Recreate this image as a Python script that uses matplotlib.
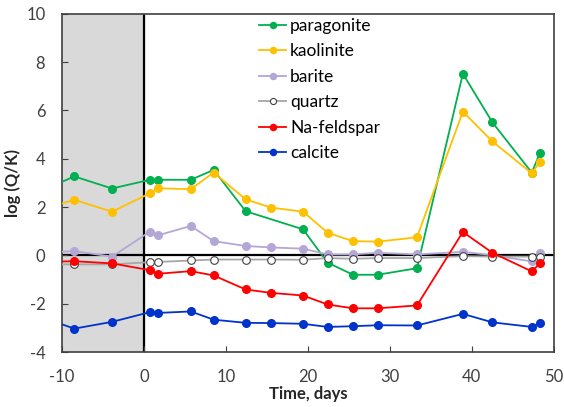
import matplotlib
matplotlib.use("Agg")
import matplotlib.pyplot as plt

plt.rcParams['font.family'] = ['Lato', 'DejaVu Sans']
plt.rcParams['axes.unicode_minus'] = False

# sampling days (first point lies left of the axis and is clipped)
days = [-13, -8.5, -3.9, 0.7, 1.7, 5.7, 8.5, 12.4, 15.5, 19.4, 22.4, 25.5, 28.5, 33.3, 38.9, 42.5, 47.3, 48.3]

# paragonite has no value at day 15.5
days_par = [d for d in days if d != 15.5]
paragonite = [2.6, 3.27, 2.77, 3.13, 3.13, 3.13, 3.54, 1.83, 1.08, -0.30, -0.80, -0.80, -0.53, 7.52, 5.51, 3.43, 4.23]
kaolinite = [1.86, 2.30, 1.81, 2.57, 2.78, 2.74, 3.43, 2.32, 1.98, 1.81, 0.94, 0.59, 0.57, 0.75, 5.95, 4.72, 3.40, 3.87]
barite = [0.1, 0.18, -0.05, 0.98, 0.83, 1.22, 0.59, 0.39, 0.33, 0.28, 0.04, 0.04, 0.11, 0.04, 0.15, 0.01, -0.25, 0.11]
quartz = [-0.37, -0.37, -0.37, -0.28, -0.27, -0.21, -0.17, -0.17, -0.17, -0.18, -0.11, -0.14, -0.11, -0.11, -0.03, -0.05, -0.05, -0.05]
na_feldspar = [-0.27, -0.24, -0.33, -0.61, -0.76, -0.65, -0.83, -1.41, -1.55, -1.66, -2.03, -2.19, -2.19, -2.07, 0.97, 0.11, -0.66, -0.33]
calcite = [-2.5, -3.03, -2.75, -2.35, -2.38, -2.32, -2.66, -2.79, -2.80, -2.83, -2.96, -2.93, -2.89, -2.90, -2.42, -2.77, -2.96, -2.79]

fig = plt.figure(figsize=(5.64, 4.07), dpi=100)
ax = fig.add_axes([0.110, 0.135, 0.872, 0.831])

ax.axvspan(-10, 0, color='#d9d9d9', zorder=0)
ax.axvline(0, color='black', lw=1.6, zorder=1)
ax.axhline(0, color='black', lw=1.6, zorder=1)

ms = 5.5
lw = 1.3
ax.plot(days_par, paragonite, '-o', color='#00b050', ms=ms, lw=lw, label='paragonite', zorder=3)
ax.plot(days, kaolinite, '-o', color='#ffc000', ms=ms, lw=lw, label='kaolinite', zorder=3)
ax.plot(days, barite, '-o', color='#b4a7d6', ms=ms, lw=lw, label='barite', zorder=3)
ax.plot(days, quartz, '-o', color='#a6a6a6', mfc='white', mec='#404040', mew=0.8, ms=ms, lw=lw,
        label='quartz', zorder=3)
ax.plot(days, na_feldspar, '-o', color='#ff0000', ms=ms, lw=lw, label='Na-feldspar', zorder=3)
ax.plot(days, calcite, '-o', color='#0033cc', ms=ms, lw=lw, label='calcite', zorder=3)

ax.set_xlim(-10, 50)
ax.set_ylim(-4, 10)
ax.set_xticks(range(-10, 51, 10))
ax.set_yticks(range(-4, 11, 2))
ax.tick_params(direction='in', length=4, color='#404040', labelcolor='#404040', labelsize=12)
ax.tick_params(axis='x', pad=12)
ax.tick_params(axis='y', pad=12)
for s in ax.spines.values():
    s.set_color('#404040')
    s.set_linewidth(1.2)

ax.set_xlabel('Time, days', fontsize=12, fontweight='bold', color='#262626', labelpad=1)
ax.set_ylabel('log (Q/K)', fontsize=12, fontweight='bold', color='#262626', labelpad=4)

ax.legend(loc='upper left', bbox_to_anchor=(0.368, 1.035), frameon=False, fontsize=12.5,
          handlelength=1.6, handletextpad=0.2, labelspacing=0.55, markerscale=0.8)

fig.savefig('out.png', dpi=100)
